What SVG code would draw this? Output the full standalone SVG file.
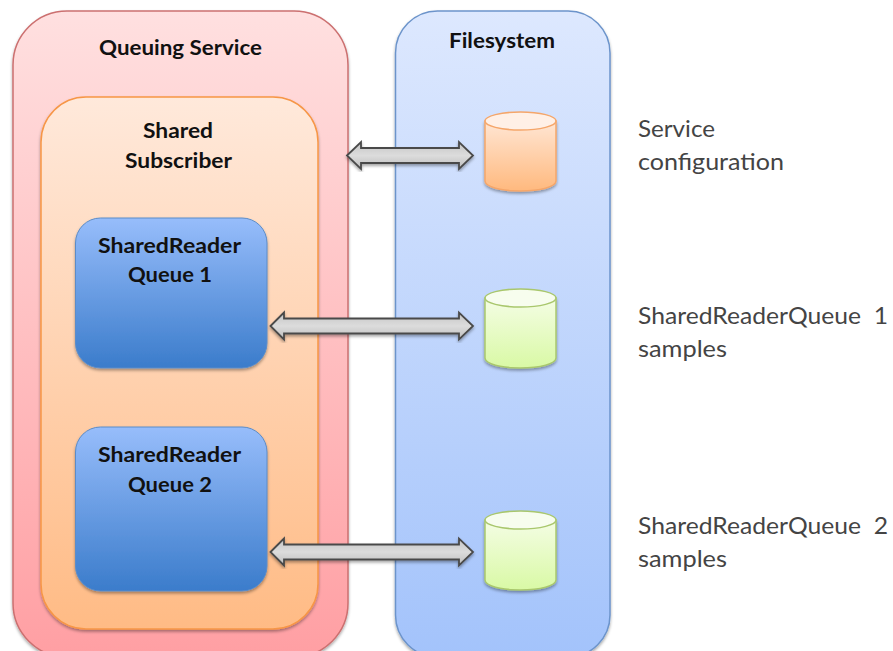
<svg xmlns="http://www.w3.org/2000/svg" width="893" height="651" viewBox="0 0 893 651">
<style>
text{font-family:Lato,"Open Sans","Liberation Sans",sans-serif;fill:#111}
.b{font-weight:700;font-size:21px;text-anchor:middle}
.l{font-size:23.500px;fill:#444;white-space:pre}
.arrow{fill:url(#ga);stroke:#4a4a4a;stroke-width:1.800;stroke-linejoin:miter}
.s{filter:url(#sh)}
</style>
<defs>
<filter id="sh" x="-10%" y="-10%" width="120%" height="120%"><feDropShadow dx="0" dy="2" stdDeviation="1.600" flood-color="#000" flood-opacity=".35"/></filter>
<linearGradient id="gr" x1="0" y1="0" x2="0" y2="1"><stop offset="0" stop-color="#ffe0e0"/><stop offset="1" stop-color="#ff9fa3"/></linearGradient>
<linearGradient id="go" x1="0" y1="0" x2="0" y2="1"><stop offset="0" stop-color="#ffe9db"/><stop offset="1" stop-color="#ffbb85"/></linearGradient>
<linearGradient id="gb" x1="0" y1="0" x2="0" y2="1"><stop offset="0" stop-color="#97bdfb"/><stop offset="1" stop-color="#3b7ccb"/></linearGradient>
<linearGradient id="gf" x1="0" y1="0" x2="0" y2="1"><stop offset="0" stop-color="#dde8fe"/><stop offset="1" stop-color="#a3c3fb"/></linearGradient>
<linearGradient id="ga" x1="0" y1="0" x2="0" y2="1"><stop offset="0" stop-color="#c4c4c4"/><stop offset=".5" stop-color="#dcdcdc"/><stop offset="1" stop-color="#bdbdbd"/></linearGradient>
<linearGradient id="co" x1="0" y1="0" x2="0" y2="1"><stop offset="0" stop-color="#ffe6d4"/><stop offset="1" stop-color="#ffb97e"/></linearGradient>
<linearGradient id="cg" x1="0" y1="0" x2="0" y2="1"><stop offset="0" stop-color="#f4fde4"/><stop offset="1" stop-color="#d9f9a5"/></linearGradient>
</defs>
<g id="queuing-service"><rect class="s" x="13" y="11" width="335" height="646" rx="54" fill="url(#gr)" stroke="#cc7070" stroke-width="1.500"/><text class="b" x="180.500" y="55" textLength="163" lengthAdjust="spacingAndGlyphs">Queuing Service</text></g>
<g id="filesystem"><rect class="s" x="395.500" y="11" width="214.500" height="646" rx="42" fill="url(#gf)" stroke="#6c94cb" stroke-width="1.500"/><text class="b" x="502" y="48" textLength="106" lengthAdjust="spacingAndGlyphs">Filesystem</text></g>
<g id="shared-subscriber"><rect class="s" x="41" y="97" width="277" height="532" rx="45" fill="url(#go)" stroke="#f79646" stroke-width="1.500"/><text class="b" x="178" y="138" textLength="70" lengthAdjust="spacingAndGlyphs">Shared</text><text class="b" x="178.500" y="168" textLength="107" lengthAdjust="spacingAndGlyphs">Subscriber</text></g>
<g id="queue1"><rect class="s" x="75.500" y="218" width="191.500" height="150" rx="25" fill="url(#gb)" stroke="#5b8cc8"/><text class="b" x="169.500" y="253" textLength="143" lengthAdjust="spacingAndGlyphs">SharedReader</text><text class="b" x="170" y="282" textLength="84" lengthAdjust="spacingAndGlyphs">Queue 1</text></g>
<g id="queue2"><rect class="s" x="75.500" y="427" width="191.500" height="164" rx="25" fill="url(#gb)" stroke="#5b8cc8"/><text class="b" x="169.500" y="462" textLength="143" lengthAdjust="spacingAndGlyphs">SharedReader</text><text class="b" x="170" y="492" textLength="84" lengthAdjust="spacingAndGlyphs">Queue 2</text></g>
<g id="connectors">
<path class="arrow s" d="M347 155.500L361 142V148H459V142L473 155.500L459 169V163H361V169Z"/>
<path class="arrow s" d="M270.500 326L284 312.500V318.500H459V312.500L473 326L459 339.500V333.500H284V339.500Z"/>
<path class="arrow s" d="M270.500 552L284 538.500V544.500H459V538.500L473 552L459 565.500V559.500H284V565.500Z"/>
</g>
<g id="db-config"><path class="s" d="M485 121V181C485 187 501 191 520.500 191S556 187 556 181V121Z" fill="url(#co)" stroke="#f5a66a" stroke-width="1.500"/><ellipse cx="520.500" cy="121" rx="35.500" ry="9" fill="#fff0e6" stroke="#f5a66a" stroke-width="1.500"/></g>
<g id="db-q1"><path class="s" d="M485 298V358C485 364 501 368 520.500 368S556 364 556 358V298Z" fill="url(#cg)" stroke="#a9c76d" stroke-width="1.500"/><ellipse cx="520.500" cy="298" rx="35.500" ry="9" fill="#f7fdee" stroke="#a9c76d" stroke-width="1.500"/></g>
<g id="db-q2"><path class="s" d="M485 520V580C485 586 501 590 520.500 590S556 586 556 580V520Z" fill="url(#cg)" stroke="#a9c76d" stroke-width="1.500"/><ellipse cx="520.500" cy="520" rx="35.500" ry="9" fill="#f7fdee" stroke="#a9c76d" stroke-width="1.500"/></g>
<g id="labels">
<text class="l" x="638" y="137" textLength="77" lengthAdjust="spacingAndGlyphs">Service</text><text class="l" x="638" y="170" textLength="146" lengthAdjust="spacingAndGlyphs">configuration</text>
<text class="l" x="638" y="324" textLength="250" lengthAdjust="spacingAndGlyphs">SharedReaderQueue  1</text><text class="l" x="638" y="357" textLength="89" lengthAdjust="spacingAndGlyphs">samples</text>
<text class="l" x="638" y="534" textLength="250" lengthAdjust="spacingAndGlyphs">SharedReaderQueue  2</text><text class="l" x="638" y="567" textLength="89" lengthAdjust="spacingAndGlyphs">samples</text>
</g>
</svg>
